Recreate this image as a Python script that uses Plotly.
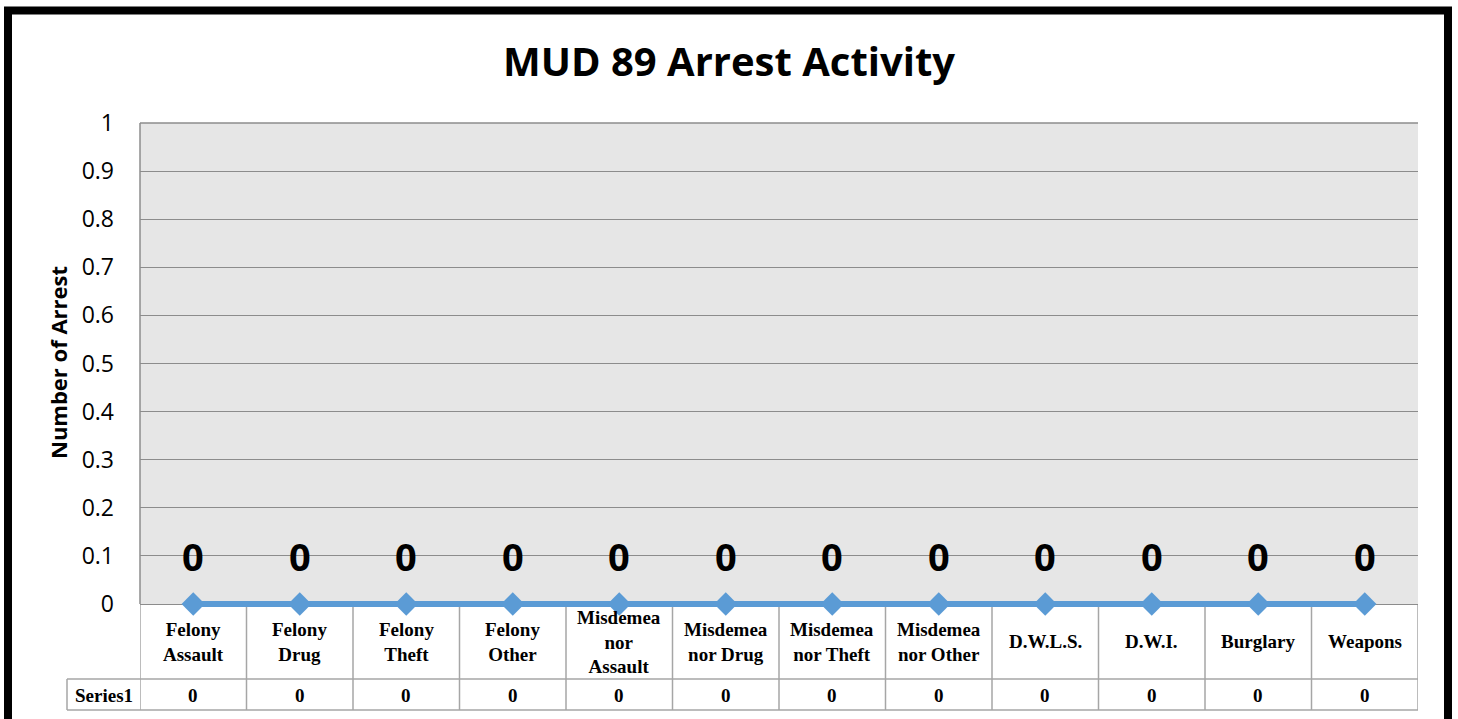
import plotly.graph_objects as go

title = "MUD 89 Arrest Activity"
y_title = "Number of Arrest"
series_name = "Series1"
categories = ["Felony Assault", "Felony Drug", "Felony Theft", "Felony Other",
              "Misdemeanor Assault", "Misdemeanor Drug", "Misdemeanor Theft",
              "Misdemeanor Other", "D.W.L.S.", "D.W.I.", "Burglary", "Weapons"]
category_labels = ["Felony<br>Assault", "Felony<br>Drug", "Felony<br>Theft", "Felony<br>Other",
                   "Misdemea<br>nor<br>Assault", "Misdemea<br>nor Drug", "Misdemea<br>nor Theft",
                   "Misdemea<br>nor Other", "D.W.L.S.", "D.W.I.", "Burglary", "Weapons"]
values = [0, 0, 0, 0, 0, 0, 0, 0, 0, 0, 0, 0]
y_ticks = [0, 0.1, 0.2, 0.3, 0.4, 0.5, 0.6, 0.7, 0.8, 0.9, 1]

W, H = 1458, 719
ZERO_PX = 604
L, R, T, B = 140, 1418, 123, 607   # plot area extends 3px below zero so the line is not clipped
pw, ph = R - L, B - T
y_min = -(B - ZERO_PX) / (ZERO_PX - T)

def px(x):
    return (x - L) / pw

def py(y):
    return (B - y) / ph

n = len(categories)
xs = list(range(n))
BLUE = "#5B9BD5"
GRID = "#8C8C8C"
TBL = "#A6A6A6"
serif = "Liberation Serif"
sans = "Open Sans"

fig = go.Figure()
fig.add_trace(go.Scatter(
    x=xs, y=values, mode="lines+markers",
    line=dict(color=BLUE, width=6),
    marker=dict(symbol="diamond", size=18, color=BLUE),
    cliponaxis=False, showlegend=False, name=series_name,
))

shapes = []
# hide the 3px of plot background below zero
shapes.append(dict(type="rect", xref="paper", yref="paper",
                   x0=0, x1=1, y0=0, y1=py(ZERO_PX),
                   line=dict(width=0), fillcolor="white", layer="below"))
# plot-area border (left and top)
shapes.append(dict(type="line", xref="paper", yref="paper",
                   x0=0, x1=0, y0=py(ZERO_PX), y1=1,
                   line=dict(color=GRID, width=1.5), layer="below"))
shapes.append(dict(type="line", xref="paper", yref="paper",
                   x0=0, x1=1, y0=1, y1=1,
                   line=dict(color=GRID, width=1.5), layer="below"))
for k in range(n + 1):
    shapes.append(dict(type="line", xref="x", yref="paper",
                       x0=k - 0.5, x1=k - 0.5, y0=py(ZERO_PX), y1=py(710),
                       line=dict(color=TBL, width=1.5), layer="below"))
shapes.append(dict(type="line", xref="paper", yref="paper",
                   x0=px(67), x1=px(1418), y0=py(679), y1=py(679),
                   line=dict(color=TBL, width=1.5)))
shapes.append(dict(type="line", xref="paper", yref="paper",
                   x0=px(67), x1=px(1418), y0=py(710), y1=py(710),
                   line=dict(color=TBL, width=1.5)))
shapes.append(dict(type="line", xref="paper", yref="paper",
                   x0=px(67), x1=px(67), y0=py(679), y1=py(710),
                   line=dict(color=TBL, width=1.5)))
# outer black border
shapes.append(dict(type="rect", xref="paper", yref="paper",
                   x0=px(8), x1=px(1448), y0=py(10.5), y1=py(740),
                   line=dict(color="black", width=8), fillcolor="rgba(0,0,0,0)",
                   layer="above"))

annotations = []
for i, v in enumerate(values):
    annotations.append(dict(x=xs[i], y=v, xref="x", yref="y",
                            text=str(v), showarrow=False, yshift=48,
                            font=dict(family=sans, size=38, color="black", weight="bold"),
                            xanchor="center", yanchor="middle"))
for i, lab in enumerate(category_labels):
    annotations.append(dict(x=xs[i], y=py(641.5), xref="x", yref="paper",
                            text=lab, showarrow=False,
                            font=dict(family=serif, size=19, color="black", weight="bold"),
                            xanchor="center", yanchor="middle"))
    annotations.append(dict(x=xs[i], y=py(695), xref="x", yref="paper",
                            text=str(values[i]), showarrow=False,
                            font=dict(family=serif, size=19, color="black", weight="bold"),
                            xanchor="center", yanchor="middle"))
annotations.append(dict(x=px(103.5), y=py(695), xref="paper", yref="paper",
                        text=series_name, showarrow=False,
                        font=dict(family=serif, size=19, color="black", weight="bold"),
                        xanchor="center", yanchor="middle"))
annotations.append(dict(x=px(58), y=py(363), xref="paper", yref="paper",
                        text=y_title, showarrow=False, textangle=-90,
                        font=dict(family=sans, size=22, color="black", weight="bold"),
                        xanchor="center", yanchor="middle"))

fig.update_layout(
    width=W, height=H,
    margin=dict(l=L, r=W - R, t=T, b=H - B, pad=0),
    paper_bgcolor="white", plot_bgcolor="#E6E6E6",
    title=dict(text=title, x=0.5, xanchor="center", y=1 - 62 / H, yanchor="middle",
               font=dict(family=sans, size=40, color="black", weight="bold")),
    xaxis=dict(range=[-0.5, n - 0.5], showticklabels=False, showgrid=False,
               zeroline=False, showline=False, ticks="", fixedrange=True),
    yaxis=dict(range=[y_min, 1], tickvals=y_ticks, ticktext=[f"{v:g}" for v in y_ticks],
               showgrid=True, gridcolor=GRID, gridwidth=1, zeroline=False,
               showline=False, ticks="",
               ticklabelstandoff=25,
               tickfont=dict(family=sans, size=23, color="black")),
    shapes=shapes, annotations=annotations,
)

fig.write_html("out.html", config={"displayModeBar": False},
               post_script="document.body.style.margin='0';")
